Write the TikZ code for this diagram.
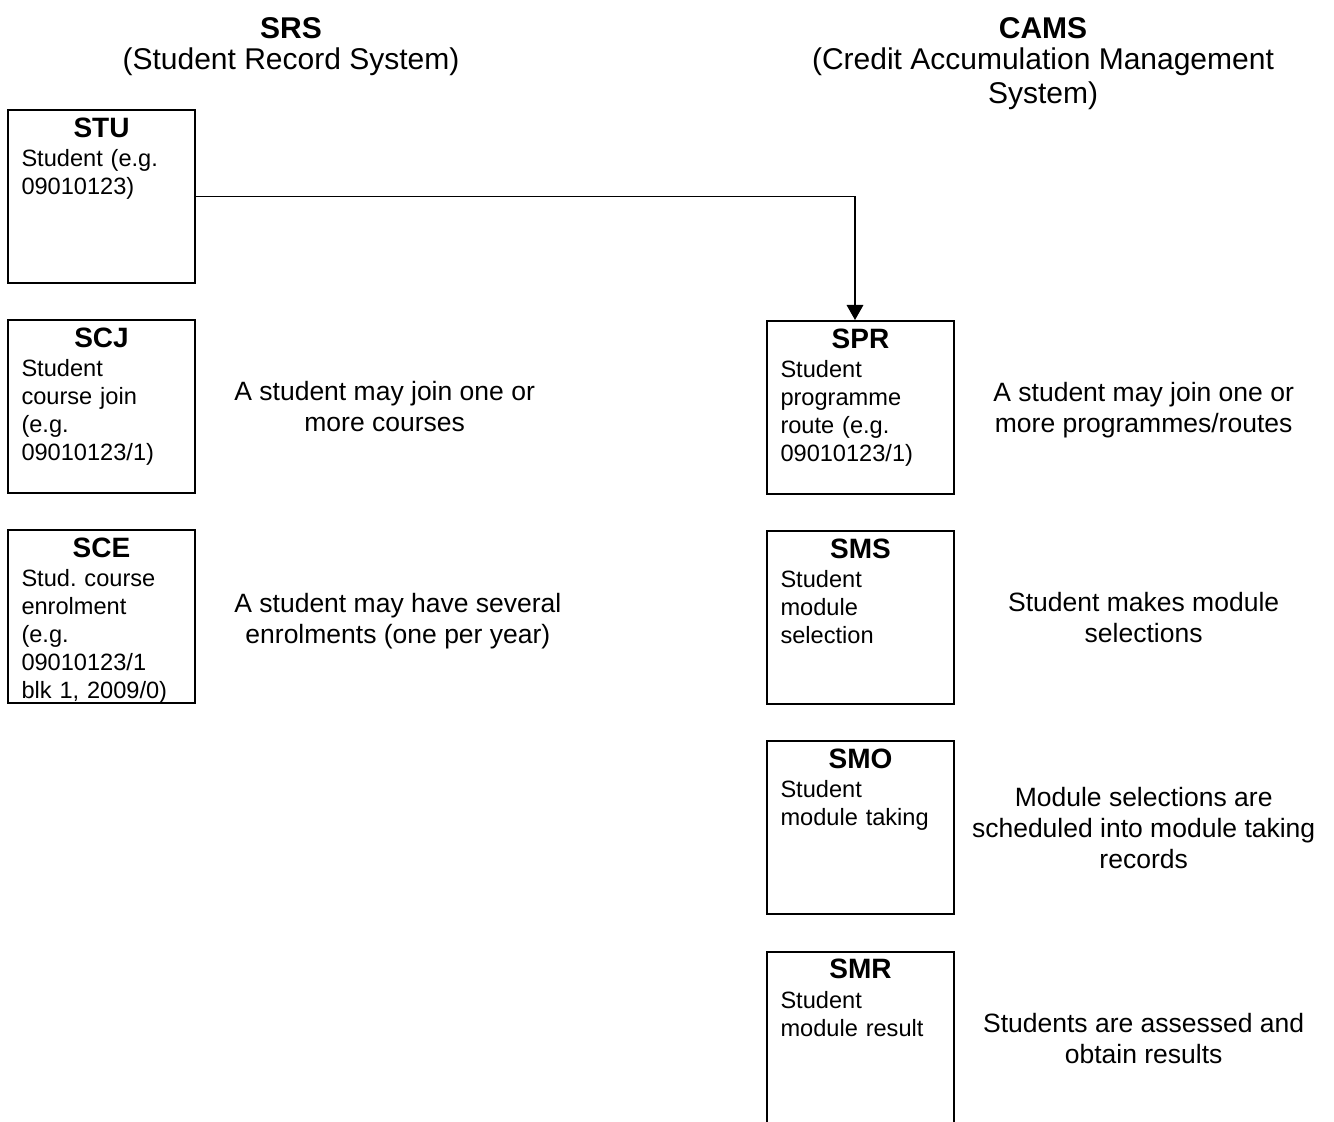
\documentclass[tikz,border=0pt]{standalone}
\usepackage{fontspec}
\setmainfont{Liberation Sans}
\usetikzlibrary{arrows.meta, positioning}
\tikzset{
  rec/box/.style={rectangle, draw=black, fill=white, line width=1pt,
    minimum width=93.5pt, minimum height=86.5pt, inner sep=0pt},
  rec/title/.style={inner sep=0pt, font=\fontsize{14}{16}\selectfont\bfseries},
  rec/body/.style={inner sep=0pt, text width=80pt, align=left,
    font=\fontsize{11.8}{14}\selectfont\frenchspacing},
  rec/info/.style={inner sep=0pt, align=center,
    font=\fontsize{13.25}{15.5}\selectfont},
  rec/head/.style={inner sep=0pt, align=center, anchor=north,
    font=\fontsize{15}{15.5}\selectfont},
  rec/arr/.style={-{Triangle[length=7.5pt,width=8.3pt]}, line width=0.7pt}
}

\begin{document}
\begin{tikzpicture}[x=0.5pt, y=-0.5pt, node distance=17.6pt and 19pt]
  \useasboundingbox (0,0) rectangle (1334,1122);
  \clip (0,0) rectangle (1334,1122);

  % column headings
  \node[rec/head] (srs) at (291,17) {\textbf{SRS}\\(Student Record System)};
  \node[rec/head] (cams) at (1043,17) {\textbf{CAMS}\\(Credit Accumulation Management\\[1.5pt]System)};

  % SRS records
  \node[rec/box, anchor=north west] (stu) at (7,109) {};
  \node[rec/box, below=of stu] (scj) {};
  \node[rec/box, below=of scj] (sce) {};

  % CAMS records
  \node[rec/box, anchor=north west] (spr) at (766,320) {};
  \node[rec/box, below=of spr] (sms) {};
  \node[rec/box, below=of sms] (smo) {};
  \node[rec/box, below=of smo] (smr) {};

  % record titles and texts
  \node[rec/title, below=4.2pt of stu.north] (stut) {STU};
  \node[rec/body, below=5.5pt of stut] (stub) {Student (e.g.\\09010123)};
  \node[rec/title, below=4.2pt of scj.north] (scjt) {SCJ};
  \node[rec/body, below=5.5pt of scjt] (scjb) {Student\\course join\\(e.g.\\09010123/1)};
  \node[rec/title, below=4.2pt of sce.north] (scet) {SCE};
  \node[rec/body, below=5.5pt of scet] (sceb) {Stud. course\\enrolment\\(e.g.\\09010123/1\\blk 1, 2009/0)};
  \node[rec/title, below=4.2pt of spr.north] (sprt) {SPR};
  \node[rec/body, below=5.5pt of sprt] (sprb) {Student\\programme\\route (e.g.\\09010123/1)};
  \node[rec/title, below=4.2pt of sms.north] (smst) {SMS};
  \node[rec/body, below=5.5pt of smst] (smsb) {Student\\module\\selection};
  \node[rec/title, below=4.2pt of smo.north] (smot) {SMO};
  \node[rec/body, below=5.5pt of smot] (smob) {Student\\module taking};
  \node[rec/title, below=4.2pt of smr.north] (smrt) {SMR};
  \node[rec/body, below=5.5pt of smrt] (smrb) {Student\\module result};

  % explanations
  \node[rec/info, right=of scj] (scji) {A student may join one or\\more courses};
  \node[rec/info, right=of sce, yshift=-2pt] (scei) {A student may have several\\enrolments (one per year)};
  \node[rec/info, right=of spr, yshift=-1.5pt] (spri) {A student may join one or\\more programmes/routes};
  \node[rec/info] (smsi) at (spri |- sms) {Student makes module\\selections};
  \node[rec/info] (smoi) at (spri |- smo) {Module selections are\\scheduled into module taking\\records};
  \node[rec/info] (smri) at (spri |- smr) {Students are assessed and\\obtain results};

  \draw[rec/arr] (stu.east) -| ([xshift=-2.75pt]spr.north);
\end{tikzpicture}
\end{document}
